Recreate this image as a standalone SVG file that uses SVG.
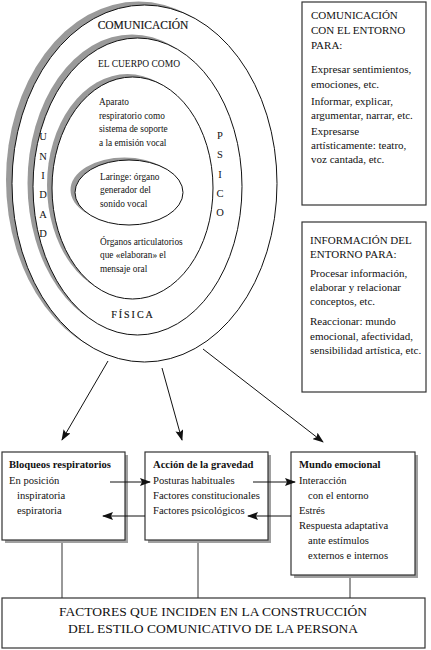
<svg xmlns="http://www.w3.org/2000/svg" width="431" height="650" viewBox="0 0 431 650" font-family="'Liberation Serif', 'Times New Roman', serif">
<defs>
<style>
text{font-family:"Liberation Serif","Times New Roman",serif;fill:#111}
.sh{fill:#9a9a9a}
.el{fill:#fff;stroke:#111;stroke-width:1}
.box{fill:#fff;stroke:#333;stroke-width:1.2}
.bsh{fill:#a0a0a0}
.ln{stroke:#333;stroke-width:1;fill:none}
.ar{stroke:#111;stroke-width:1;fill:none;marker-end:url(#ah)}
.t9{font-size:9.3px}
.t11{font-size:11px}
.t105{font-size:10.6px}
.b{font-weight:bold}
.v{font-size:10.5px;text-anchor:middle}
.c{text-anchor:middle}
.hv{stroke:#111;stroke-width:0.15}
</style>
<marker id="ah" markerWidth="11" markerHeight="8" refX="10" refY="4" orient="auto" markerUnits="userSpaceOnUse">
<path d="M0,0 L11,4 L0,8 L2,4 z" fill="#111"/>
</marker>
</defs>

<g id="ellipses">
<g id="outer">
<ellipse class="sh" cx="138.5" cy="180" rx="132.5" ry="178.5"/>
<ellipse class="el" cx="144.5" cy="183.5" rx="132.5" ry="178.5"/>
<text x="143" y="29" class="c hv" style="font-size:11.5px">COMUNICACIÓN</text>
</g>
<g id="cuerpo">
<ellipse class="sh" cx="132" cy="183" rx="104.5" ry="148.5"/>
<ellipse class="el" cx="137.5" cy="186.5" rx="104.5" ry="148.5"/>
<text x="139" y="67" class="c" style="font-size:9.5px">EL CUERPO COMO</text>
<text x="133" y="318" class="c hv" style="font-size:10px;letter-spacing:2px">FÍSICA</text>
</g>
<g id="unidad">
<text class="v" x="43" y="140">U</text>
<text class="v" x="43" y="160">N</text>
<text class="v" x="43" y="179">I</text>
<text class="v" x="43" y="198">D</text>
<text class="v" x="43" y="218">A</text>
<text class="v" x="43" y="237">D</text>
</g>
<g id="psico">
<text class="v" x="220" y="139">P</text>
<text class="v" x="220" y="158">S</text>
<text class="v" x="220" y="178">I</text>
<text class="v" x="220" y="197">C</text>
<text class="v" x="220" y="216">O</text>
</g>
<g id="aparato">
<ellipse class="sh" cx="127.5" cy="185" rx="80.5" ry="111"/>
<ellipse class="el" cx="132.5" cy="188" rx="80.5" ry="111"/>
<text class="t9" x="99" y="105">Aparato</text>
<text class="t9" x="99" y="119">respiratorio como</text>
<text class="t9" x="99" y="132">sistema de soporte</text>
<text class="t9" x="99" y="146">a la emisión vocal</text>
<text class="t9" x="100" y="245">Órganos articulatorios</text>
<text class="t9" x="100" y="258">que «elaboran» el</text>
<text class="t9" x="100" y="272">mensaje oral</text>
</g>
<g id="laringe">
<ellipse class="sh" cx="124.5" cy="190" rx="54" ry="32.5"/>
<ellipse class="el" cx="129" cy="192.5" rx="54" ry="32.5"/>
<text class="t9" x="100" y="180">Laringe: órgano</text>
<text class="t9" x="100" y="193">generador del</text>
<text class="t9" x="100" y="207">sonido vocal</text>
</g>
</g>

<g id="box-comunicacion">
<rect class="box" x="302" y="2" width="124" height="203"/>
<text class="t11" x="311" y="19">COMUNICACIÓN</text>
<text class="t11" x="311" y="34">CON EL ENTORNO</text>
<text class="t11" x="311" y="49">PARA:</text>
<text class="t11" x="311" y="73">Expresar sentimientos,</text>
<text class="t11" x="311" y="88">emociones, etc.</text>
<text class="t11" x="311" y="105">Informar, explicar,</text>
<text class="t11" x="311" y="119">argumentar, narrar, etc.</text>
<text class="t11" x="311" y="135">Expresarse</text>
<text class="t11" x="311" y="149">artísticamente: teatro,</text>
<text class="t11" x="311" y="163">voz cantada, etc.</text>
</g>

<g id="box-informacion">
<rect class="box" x="302" y="222" width="124" height="170"/>
<text class="t11" x="310" y="244">INFORMACIÓN DEL</text>
<text class="t11" x="310" y="258">ENTORNO PARA:</text>
<text class="t11" x="310" y="277">Procesar información,</text>
<text class="t11" x="310" y="291">elaborar y relacionar</text>
<text class="t11" x="310" y="305">conceptos, etc.</text>
<text class="t11" x="310" y="325">Reaccionar: mundo</text>
<text class="t11" x="310" y="340">emocional, afectividad,</text>
<text class="t11" x="310" y="354">sensibilidad artística, etc.</text>
</g>

<g id="box-bloqueos">
<rect class="bsh" x="5" y="455" width="123" height="88"/>
<rect class="box" x="2" y="452" width="123" height="88"/>
<text class="t105 b" x="9" y="468">Bloqueos respiratorios</text>
<text class="t105" x="9" y="484">En posición</text>
<text class="t105" x="17" y="499">inspiratoria</text>
<text class="t105" x="17" y="514">espiratoria</text>
</g>

<g id="box-gravedad">
<rect class="bsh" x="148" y="455" width="123" height="88"/>
<rect class="box" x="145" y="452" width="123" height="88"/>
<text class="t105 b" x="153" y="468">Acción de la gravedad</text>
<text class="t105" x="153" y="484">Posturas habituales</text>
<text class="t105" x="153" y="499">Factores constitucionales</text>
<text class="t105" x="153" y="514">Factores psicológicos</text>
</g>

<g id="box-emocional">
<rect class="bsh" x="294" y="455" width="124" height="123"/>
<rect class="box" x="291" y="452" width="124" height="123"/>
<text class="t105 b" x="299" y="468">Mundo emocional</text>
<text class="t105" x="299" y="484">Interacción</text>
<text class="t105" x="308" y="499">con el entorno</text>
<text class="t105" x="299" y="514">Estrés</text>
<text class="t105" x="299" y="529">Respuesta adaptativa</text>
<text class="t105" x="308" y="544">ante estímulos</text>
<text class="t105" x="308" y="559">externos e internos</text>
</g>

<g id="box-factores">
<rect class="box" x="2" y="598" width="423" height="50"/>
<text class="c" x="213" y="616" style="font-size:13.5px">FACTORES QUE INCIDEN EN LA CONSTRUCCIÓN</text>
<text class="c" x="213" y="633" style="font-size:13.5px">DEL ESTILO COMUNICATIVO DE LA PERSONA</text>
</g>

<g id="connectors">
<line class="ar" x1="108" y1="361" x2="62" y2="440"/>
<line class="ar" x1="162" y1="368" x2="182" y2="440"/>
<line class="ar" x1="203" y1="349" x2="323" y2="442"/>
<line class="ar" x1="110" y1="482" x2="150" y2="482"/>
<line class="ar" x1="253" y1="482" x2="295" y2="482"/>
<line class="ar" x1="291" y1="516" x2="248" y2="516"/>
<line class="ar" x1="145" y1="516" x2="103" y2="516"/>
<line class="ln" x1="62" y1="543" x2="62" y2="598"/>
<line class="ln" x1="198" y1="543" x2="198" y2="598"/>
<line class="ln" x1="350" y1="578" x2="350" y2="598"/>
</g>
</svg>
